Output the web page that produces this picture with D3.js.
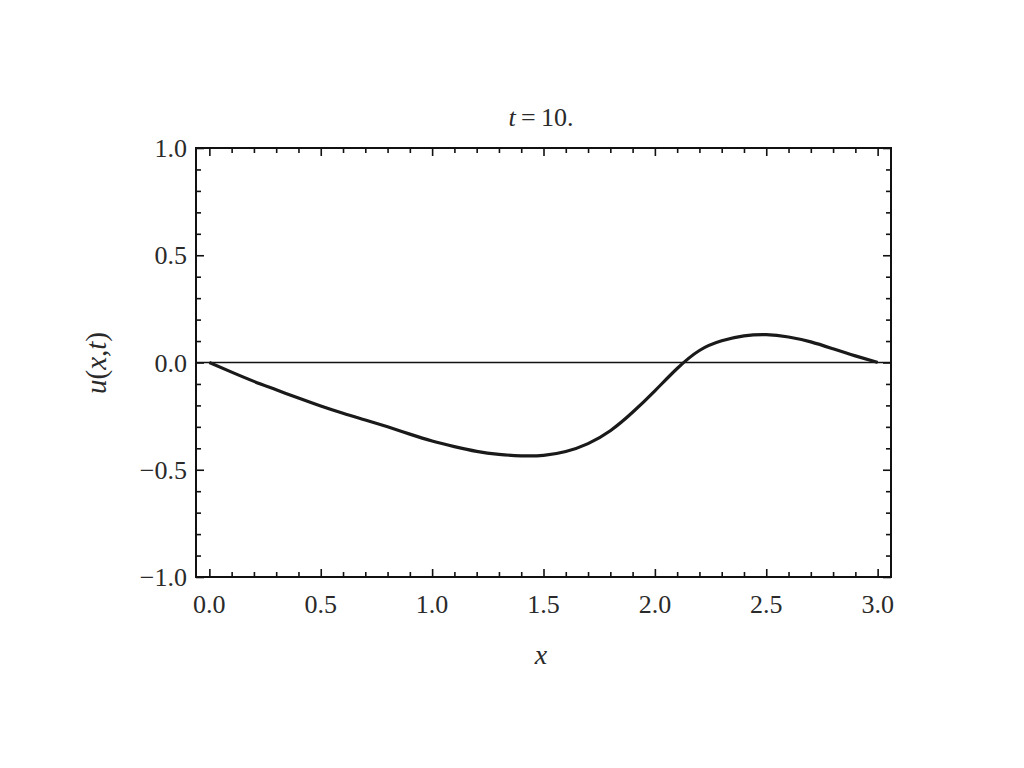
<!DOCTYPE html>
<html><head><meta charset="utf-8">
<script src="https://cdn.jsdelivr.net/npm/d3@7"></script>
<style>body{margin:0;background:#fff}svg text{font-family:"Liberation Serif","Times New Roman",serif;fill:#2a2a2a}</style>
</head><body><svg id="c" width="1024" height="768"></svg>
<script>
const xs = [0,0.1,0.2,0.3,0.4,0.5,0.6,0.7,0.8,0.9,1.0,1.1,1.2,1.3,1.4,1.5,1.6,1.7,1.8,1.9,2.0,2.1,2.2,2.3,2.4,2.5,2.6,2.7,2.8,2.9,3.0];
const us = [0,-0.045,-0.088,-0.127,-0.166,-0.203,-0.237,-0.268,-0.300,-0.334,-0.366,-0.392,-0.414,-0.428,-0.435,-0.433,-0.415,-0.378,-0.318,-0.232,-0.132,-0.028,0.056,0.101,0.124,0.130,0.119,0.096,0.064,0.031,0];
const xTicks = [0,0.5,1.0,1.5,2.0,2.5,3.0];
const yTicks = [-1.0,-0.5,0.0,0.5,1.0];
const titleText = "t\u2009=\u200910.";

const svg = d3.select("#c");
const L=196,R=891,T=148,B=577;
const x = d3.scaleLinear().domain([-0.06,3.06]).range([L,R]);
const y = d3.scaleLinear().domain([-1,1]).range([B,T]);
const fmt = d => d<0 ? "\u2212"+Math.abs(d).toFixed(1) : d.toFixed(1);
const xMinor = d3.range(0,31).map(i=>i/10).filter(v=>Math.round(v*10)%5!==0);
const yMinor = d3.range(-10,11).map(i=>i/10).filter(v=>Math.round(v*10)%5!==0);

function ticks(axisFn, scale, vals, len, pos){
  const a = axisFn(scale).tickValues(vals).tickSizeInner(len).tickSizeOuter(0).tickFormat("");
  const g = svg.append("g").attr("transform",pos).call(a);
  g.select(".domain").remove();
  g.selectAll("line").attr("stroke","#111").attr("stroke-width",1.6);
  return g;
}
ticks(d3.axisBottom, x, xTicks, -8, `translate(0,${B})`);
ticks(d3.axisTop, x, xTicks, -8, `translate(0,${T})`);
ticks(d3.axisLeft, y, yTicks, -8, `translate(${L},0)`);
ticks(d3.axisRight, y, yTicks, -8, `translate(${R},0)`);
ticks(d3.axisBottom, x, xMinor, -5, `translate(0,${B})`);
ticks(d3.axisTop, x, xMinor, -5, `translate(0,${T})`);
ticks(d3.axisLeft, y, yMinor, -5, `translate(${L},0)`);
ticks(d3.axisRight, y, yMinor, -5, `translate(${R},0)`);

// tick labels
const FS = 26;
svg.append("g").selectAll("text").data(xTicks).join("text")
  .attr("x", d=>x(d)).attr("y",613)
  .attr("text-anchor","middle").attr("font-size",FS).text(fmt);
svg.append("g").selectAll("text").data(yTicks).join("text")
  .attr("x", L-9).attr("y", d=>y(d)+9)
  .attr("text-anchor","end").attr("font-size",FS).text(fmt);

// zero axis line
svg.append("line").attr("x1",L).attr("x2",R).attr("y1",y(0)).attr("y2",y(0))
  .attr("stroke","#111").attr("stroke-width",1.6);

// curve
const pts = xs.map((v,i)=>[v,us[i]]);
svg.append("path").datum(pts)
  .attr("d", d3.line().x(d=>x(d[0])).y(d=>y(d[1])).curve(d3.curveNatural))
  .attr("fill","none").attr("stroke","#1a1a1a").attr("stroke-width",3.2);

// frame
svg.append("rect").attr("x",L).attr("y",T).attr("width",R-L).attr("height",B-T)
  .attr("fill","none").attr("stroke","#111").attr("stroke-width",2);

// title
const tt = svg.append("text").attr("x",541).attr("y",126).attr("text-anchor","middle").attr("font-size",FS);
tt.append("tspan").attr("font-style","italic").text(titleText.slice(0,1));
tt.append("tspan").text(titleText.slice(1));
// x label
svg.append("text").attr("x",541).attr("y",664).attr("text-anchor","middle").attr("font-size",28)
  .attr("font-style","italic").text("x");
// y label
const yl = svg.append("text").attr("transform","translate(106,363) rotate(-90)").attr("text-anchor","middle").attr("font-size",29);
yl.append("tspan").attr("font-style","italic").text("u");
yl.append("tspan").text("(");
yl.append("tspan").attr("font-style","italic").text("x");
yl.append("tspan").text(",");
yl.append("tspan").attr("font-style","italic").text("t");
yl.append("tspan").text(")");
</script></body></html>
